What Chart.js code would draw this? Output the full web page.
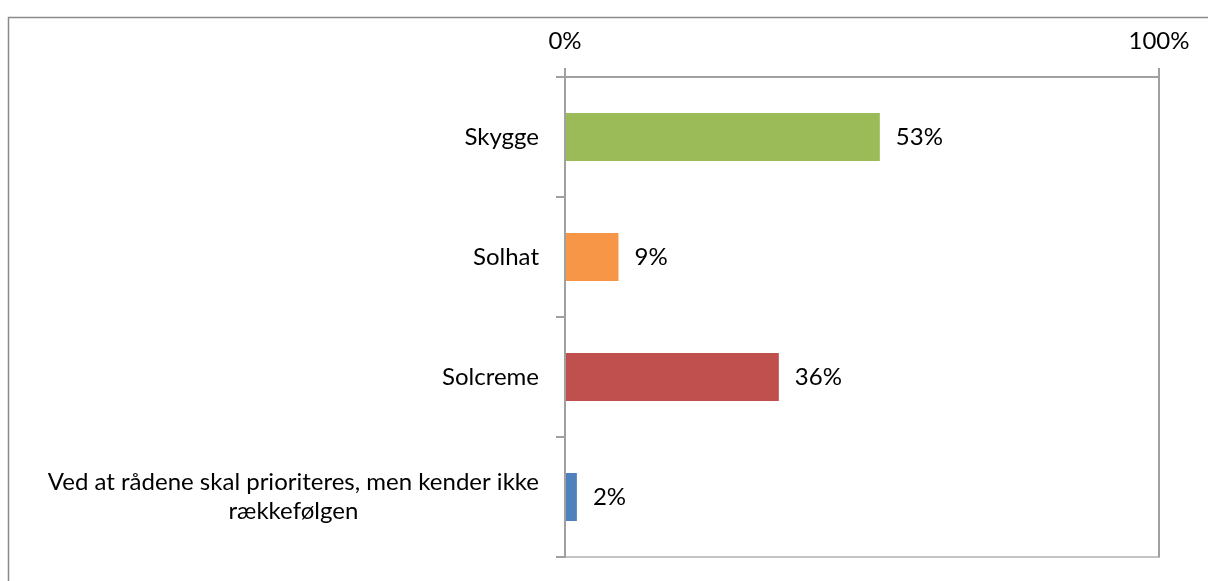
<!DOCTYPE html>
<html>
<head>
<meta charset="utf-8">
<script src="https://cdn.jsdelivr.net/npm/chart.js@4/dist/chart.umd.min.js"></script>
<style>
  html, body { margin: 0; padding: 0; background: #fff; }
  canvas { display: block; }
</style>
</head>
<body>
<canvas id="c" width="1208" height="581"></canvas>
<script>
const categories = [
  "Skygge",
  "Solhat",
  "Solcreme",
  ["Ved at rådene skal prioriteres, men kender ikke", "rækkefølgen"]
];
const values = [53, 9, 36, 2];
const barColors = ["#9BBB59", "#F79646", "#C0504D", "#4F81BD"];
const xTicks = [0, 100];

const FONT = 'Lato, "Open Sans", sans-serif';
const FONT_SIZE = 24;

const framePlugin = {
  id: 'frame',
  beforeDraw(chart) {
    const ctx = chart.ctx;
    const a = chart.chartArea;
    ctx.save();
    ctx.fillStyle = '#fff';
    ctx.fillRect(0, 0, chart.width, chart.height);
    ctx.strokeStyle = '#8a8a8a';
    ctx.lineWidth = 1.5;
    ctx.strokeRect(8.5, 17.5, 1400, 800);
    // plot area border (light)
    ctx.strokeStyle = '#c4c4c4';
    ctx.lineWidth = 2;
    ctx.beginPath();
    ctx.moveTo(a.left - 9, a.bottom);
    ctx.lineTo(a.right, a.bottom);
    ctx.lineTo(a.right, a.top);
    ctx.stroke();
    ctx.restore();
  }
};

const labelsPlugin = {
  id: 'labels',
  afterDraw(chart) {
    const ctx = chart.ctx;
    const yScale = chart.scales.y;
    const meta = chart.getDatasetMeta(0);
    ctx.save();
    ctx.fillStyle = '#000';
    ctx.font = FONT_SIZE + 'px ' + FONT;
    ctx.textBaseline = 'middle';
    const rightEdge = chart.chartArea.left - 26;
    categories.forEach((lab, i) => {
      const y = yScale.getPixelForValue(i);
      if (Array.isArray(lab)) {
        const w = Math.max(...lab.map(l => ctx.measureText(l).width));
        const cx = rightEdge - w / 2;
        const lh = 29;
        ctx.textAlign = 'center';
        lab.forEach((l, k) => {
          ctx.fillText(l, cx, y + (k - (lab.length - 1) / 2) * lh);
        });
      } else {
        ctx.textAlign = 'right';
        ctx.fillText(lab, rightEdge, y);
      }
    });
    // data labels
    ctx.textAlign = 'left';
    meta.data.forEach((bar, i) => {
      ctx.fillText(values[i] + '%', bar.x + 16, bar.y);
    });
    ctx.restore();
  }
};

new Chart(document.getElementById('c'), {
  type: 'bar',
  data: {
    labels: categories,
    datasets: [{
      data: values,
      backgroundColor: barColors,
      borderWidth: 0,
      barPercentage: 0.4,
      categoryPercentage: 1.0
    }]
  },
  options: {
    indexAxis: 'y',
    responsive: false,
    animation: false,
    devicePixelRatio: 1,
    layout: { padding: { left: 0, right: 49, top: 0, bottom: 24 } },
    plugins: { legend: { display: false }, tooltip: { enabled: false } },
    scales: {
      x: {
        type: 'linear',
        position: 'top',
        min: 0,
        max: 100,
        afterBuildTicks(scale) { scale.ticks = xTicks.map(v => ({ value: v })); },
        ticks: {
          color: '#000',
          font: { family: FONT, size: FONT_SIZE },
          padding: 12,
          callback: v => v + '%'
        },
        grid: { color: '#a0a0a0', lineWidth: 2, tickLength: 9, drawTicks: true },
        border: { display: true, color: '#a0a0a0', width: 2 },
        afterFit(scale) { scale.height = 77; }
      },
      y: {
        type: 'category',
        offset: true,
        ticks: { display: false },
        grid: { display: true, drawOnChartArea: false, drawTicks: true, tickLength: 9, color: '#a0a0a0', lineWidth: 2, offset: true },
        border: { display: true, color: '#a0a0a0', width: 2 },
        afterFit(scale) { scale.width = 565; }
      }
    }
  },
  plugins: [framePlugin, labelsPlugin]
});
</script>
</body>
</html>
